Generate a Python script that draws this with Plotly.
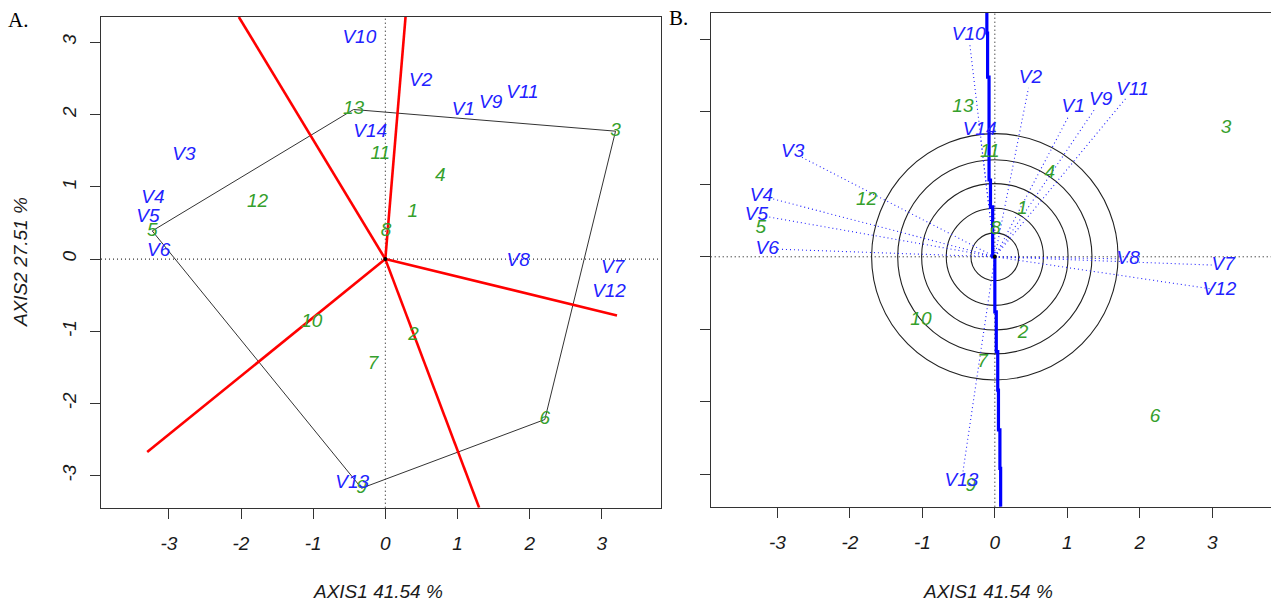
import numpy as np
import plotly.graph_objects as go

W, H = 1271, 602

# ---------------- data ----------------
ind_ids = [str(i) for i in range(1, 14)]
ind_x = [0.38, 0.39, 3.19, 0.76, -3.23, 2.21, -0.17, 0.01, -0.33, -1.02, -0.07, -1.77, -0.44]
ind_y = [0.65, -1.05, 1.77, 1.15, 0.39, -2.22, -1.46, 0.38, -3.17, -0.87, 1.45, 0.78, 2.07]
hull_ids = [5, 13, 3, 6, 9, 5]

var_names = [f"V{i}" for i in range(1, 15)]
var_x = [1.08, 0.49, -2.79, -3.22, -3.29, -3.14, 3.15, 1.84, 1.46, -0.36, 1.90, 3.10, -0.46, -0.21]
var_y = [2.06, 2.46, 1.44, 0.84, 0.58, 0.11, -0.12, -0.03, 2.16, 3.06, 2.30, -0.46, -3.10, 1.75]
label_offset = 0.13  # distance between arrow tip and its label

red_end_x = [0.28, -2.03, 3.21, -3.30, 1.30]
red_end_y = [3.35, 3.35, -0.78, -2.67, -3.44]

blue_x = [-0.11, -0.10, -0.08, -0.06, -0.03, 0.0, 0.02, 0.04, 0.05, 0.07, 0.08, 0.09]
blue_y = [3.37, 3.09, 2.48, 1.06, 0.69, 0.0, -0.76, -1.31, -1.84, -2.39, -2.92, -3.45]

circle_r = [0.33, 0.67, 1.01, 1.34, 1.70]

ticks = [-3, -2, -1, 0, 1, 2, 3]
tick_text = ["-3", "-2", "-1", "0", "1", "2", "3"]
xlab = "AXIS1 41.54 %"
ylab = "AXIS2 27.51 %"

GREEN = "#35a02c"
BLUE = "#2222ff"
FONT = "Liberation Sans"
FS = 19

fig = go.Figure()

# ---------------- panel A ----------------
hx = [ind_x[i - 1] for i in hull_ids]
hy = [ind_y[i - 1] for i in hull_ids]
fig.add_trace(go.Scatter(x=hx, y=hy, mode="lines", line=dict(color="#333333", width=1),
                         xaxis="x", yaxis="y", hoverinfo="skip"))
rx, ry = [], []
for ex, ey in zip(red_end_x, red_end_y):
    rx += [0, ex, None]
    ry += [0, ey, None]
fig.add_trace(go.Scatter(x=rx, y=ry, mode="lines", line=dict(color="#ff0000", width=2.6),
                         xaxis="x", yaxis="y", hoverinfo="skip"))
fig.add_trace(go.Scatter(x=[0], y=[0], mode="markers", marker=dict(color="black", size=4),
                         xaxis="x", yaxis="y"))
fig.add_trace(go.Scatter(x=ind_x, y=ind_y, text=ind_ids, mode="text",
                         textfont=dict(color=GREEN, size=FS, family=FONT, style="italic"),
                         xaxis="x", yaxis="y"))
fig.add_trace(go.Scatter(x=var_x, y=var_y, text=var_names, mode="text",
                         textfont=dict(color=BLUE, size=FS, family=FONT, style="italic"),
                         xaxis="x", yaxis="y"))

# ---------------- panel B ----------------
vx = np.array(var_x)
vy = np.array(var_y)
norm = np.sqrt(vx ** 2 + vy ** 2)
tip_x = vx * (1 - label_offset / norm)
tip_y = vy * (1 - label_offset / norm)
dx, dy = [], []
for tx, ty in zip(tip_x, tip_y):
    dx += [0, float(tx), None]
    dy += [0, float(ty), None]
fig.add_trace(go.Scatter(x=dx, y=dy, mode="lines", line=dict(color=BLUE, width=1.1, dash="1px,3px"),
                         xaxis="x2", yaxis="y2", hoverinfo="skip"))
fig.add_trace(go.Scatter(x=blue_x, y=blue_y, mode="lines", line=dict(color="#0000ff", width=3.2, shape="vh"),
                         xaxis="x2", yaxis="y2", hoverinfo="skip"))
fig.add_trace(go.Scatter(x=[0], y=[0], mode="markers", marker=dict(color="black", size=4),
                         xaxis="x2", yaxis="y2"))
fig.add_trace(go.Scatter(x=ind_x, y=ind_y, text=ind_ids, mode="text",
                         textfont=dict(color=GREEN, size=FS, family=FONT, style="italic"),
                         xaxis="x2", yaxis="y2"))
fig.add_trace(go.Scatter(x=var_x, y=var_y, text=var_names, mode="text",
                         textfont=dict(color=BLUE, size=FS, family=FONT, style="italic"),
                         xaxis="x2", yaxis="y2"))

shapes = []
for r in circle_r:
    shapes.append(dict(type="circle", xref="x2", yref="y2", x0=-r, x1=r, y0=-r, y1=r,
                       line=dict(color="#222222", width=1.1), layer="below"))
for xa, ya in [("x", "y"), ("x2", "y2")]:
    shapes.append(dict(type="line", xref=xa, yref=f"{ya} domain", x0=0, x1=0, y0=0, y1=1,
                       line=dict(color="black", width=1, dash="1px,3px"), layer="below"))
    shapes.append(dict(type="line", xref=f"{xa} domain", yref=ya, x0=0, x1=1, y0=0, y1=0,
                       line=dict(color="black", width=1, dash="1px,3px"), layer="below"))

tickfont = dict(family=FONT, size=FS, color="#1a1a1a", style="italic")
axis_common = dict(showgrid=False, zeroline=False, showline=True, mirror=True,
                   linecolor="#333333", linewidth=1.3, ticks="outside", ticklen=10,
                   tickwidth=1, tickcolor="#333333", tickmode="array", tickvals=ticks,
                   ticktext=tick_text, tickfont=tickfont)

anno_font = dict(family=FONT, size=FS, color="#1a1a1a", style="italic")
fig.update_layout(
    width=W, height=H, showlegend=False,
    paper_bgcolor="white", plot_bgcolor="white",
    margin=dict(l=0, r=0, t=0, b=0),
    xaxis=dict(domain=[101 / W, 661 / W], range=[-3.94, 3.82], ticklabelstandoff=8, **axis_common),
    yaxis=dict(domain=[(H - 507.7) / H, (H - 17) / H], range=[-3.44, 3.35], tickangle=-90,
               ticklabelstandoff=6, **axis_common),
    xaxis2=dict(domain=[710.7 / W, 1.0], range=[-3.92, 3.81], anchor="y2", ticklabelstandoff=8,
                **axis_common),
    yaxis2=dict(domain=[(H - 506.7) / H, (H - 12.7) / H], range=[-3.45, 3.37], anchor="x2",
                showticklabels=False, **axis_common),
    shapes=shapes,
    annotations=[
        dict(text="A.", x=18 / W, y=1 - 20 / H, xref="paper", yref="paper", showarrow=False,
             xanchor="center", yanchor="middle",
             font=dict(family="Liberation Serif", size=21, color="black")),
        dict(text="B.", x=678 / W, y=1 - 18 / H, xref="paper", yref="paper", showarrow=False,
             xanchor="center", yanchor="middle",
             font=dict(family="Liberation Serif", size=21, color="black")),
        dict(text=xlab, x=378 / W, y=1 - 591 / H, xref="paper", yref="paper", showarrow=False,
             xanchor="center", yanchor="middle", font=anno_font),
        dict(text=xlab, x=988 / W, y=1 - 591 / H, xref="paper", yref="paper", showarrow=False,
             xanchor="center", yanchor="middle", font=anno_font),
        dict(text=ylab, x=20 / W, y=1 - 262 / H, xref="paper", yref="paper", showarrow=False,
             xanchor="center", yanchor="middle", textangle=-90, font=anno_font),
    ],
)

fig.write_html("out.html", config={"displayModeBar": False},
               post_script="document.body.style.margin='0px';")
